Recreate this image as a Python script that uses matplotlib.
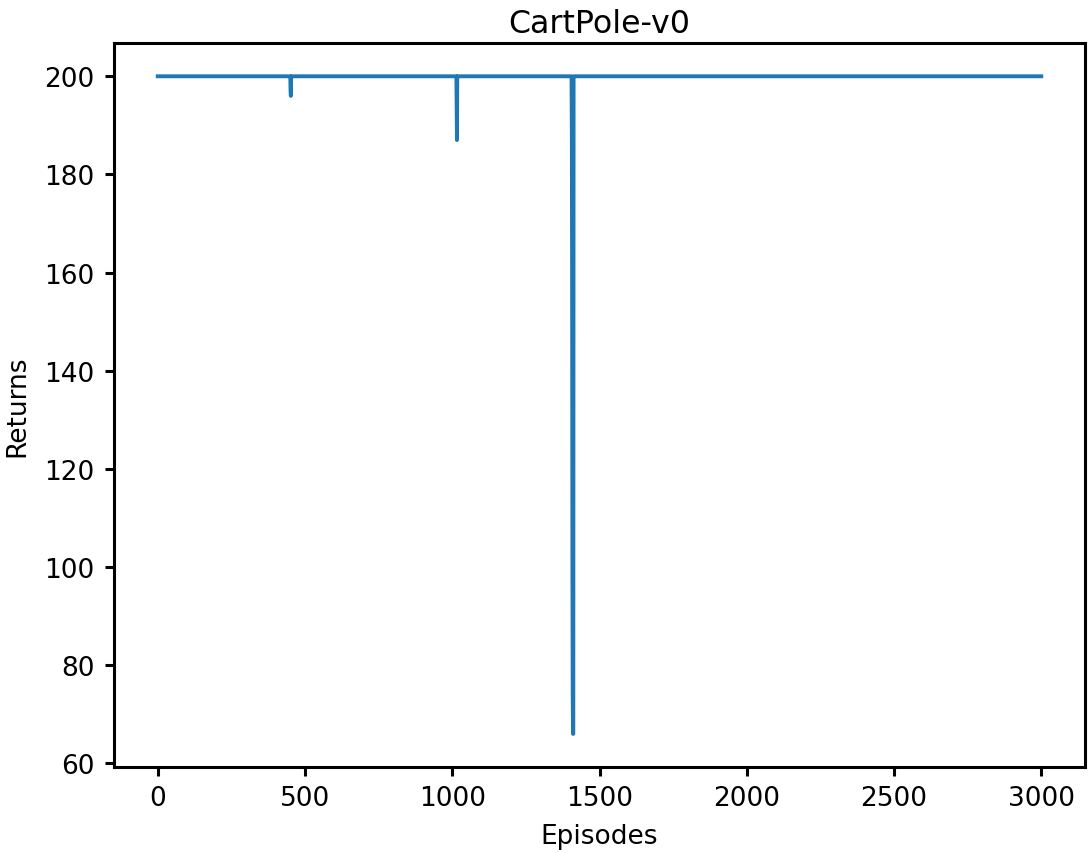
import numpy as np
import matplotlib
matplotlib.use('Agg')
from matplotlib import pyplot as plt

n_episodes = 3001
max_return = 200

# episodes where the return dropped below the max
dip_episodes = [451, 452, 1015, 1016, 1406, 1407, 1408, 1409, 1410, 1411]
dip_returns = [197, 196, 192, 187, 189, 159, 101, 74, 66, 66]

episodes = np.arange(n_episodes)
returns = np.full(n_episodes, max_return, dtype=float)
returns[dip_episodes] = dip_returns

plt.rcParams['font.size'] = 19
plt.rcParams['axes.linewidth'] = 2.2
plt.rcParams['xtick.major.width'] = 2.2
plt.rcParams['ytick.major.width'] = 2.2
plt.rcParams['xtick.major.size'] = 6.5
plt.rcParams['ytick.major.size'] = 6.5
plt.rcParams['xtick.major.pad'] = 7
plt.rcParams['ytick.major.pad'] = 7

fig, ax = plt.subplots(figsize=(10.92, 8.54), dpi=100)
fig.subplots_adjust(left=0.104, right=0.994, top=0.948, bottom=0.101)
ax.plot(episodes, returns, color='#1f77b4', linewidth=2.8)
ax.set_xlabel('Episodes', labelpad=8)
ax.set_ylabel('Returns', labelpad=10)
ax.set_title('CartPole-v0', pad=8)
ax.set_xticks([0, 500, 1000, 1500, 2000, 2500, 3000])
ax.set_yticks([60, 80, 100, 120, 140, 160, 180, 200])
fig.savefig('out.png')
